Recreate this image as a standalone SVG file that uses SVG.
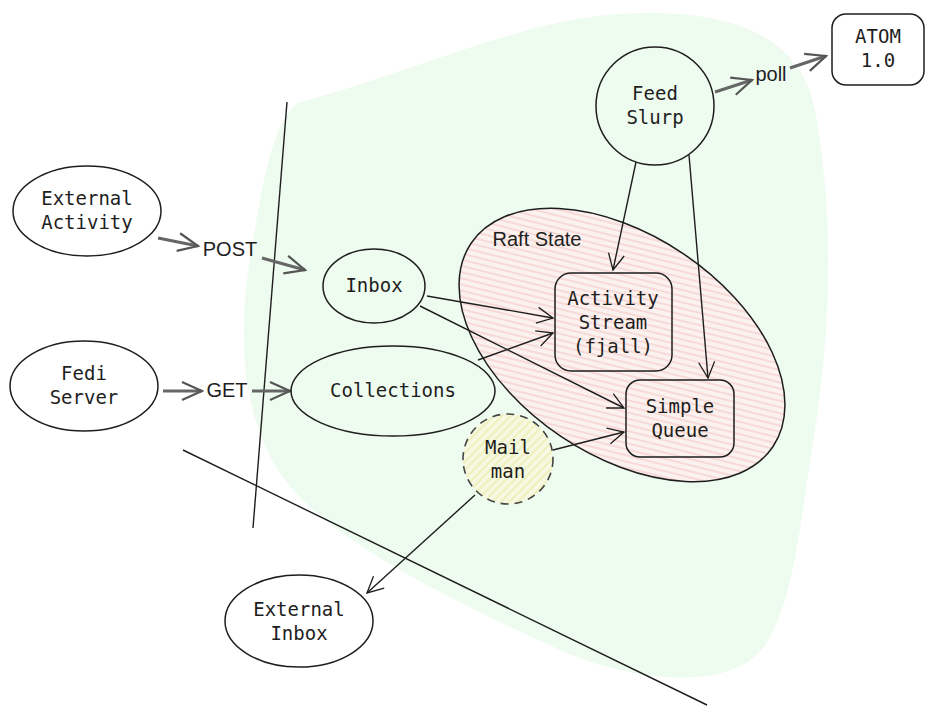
<svg xmlns="http://www.w3.org/2000/svg" width="933" height="716" viewBox="0 0 933 716">
<defs>
<pattern id="pink" width="6" height="6" patternUnits="userSpaceOnUse" patternTransform="rotate(-20)">
<rect width="6" height="6" fill="#fbf1ee"/>
<line x1="0" y1="1" x2="6" y2="1" stroke="#f3c4c0" stroke-width="1"/>
</pattern>
<pattern id="yellow" width="6" height="6" patternUnits="userSpaceOnUse" patternTransform="rotate(-45)">
<rect width="6" height="6" fill="#f6f8e2"/>
<line x1="0" y1="1" x2="6" y2="1" stroke="#ecefb0" stroke-width="1.5"/>
</pattern>
<marker id="arr" viewBox="0 0 20 20" refX="18" refY="10" markerWidth="20" markerHeight="20" markerUnits="userSpaceOnUse" orient="auto">
<path d="M2,2 L18,10 L2,18" fill="none" stroke="#1e1e1e" stroke-width="1.3"/>
</marker>
<marker id="arrg" viewBox="0 0 24 24" refX="22" refY="12" markerWidth="24" markerHeight="24" markerUnits="userSpaceOnUse" orient="auto">
<path d="M2,3 L22,12 L2,21" fill="none" stroke="#555" stroke-width="2.2"/>
</marker>
</defs>
<style>
.n{fill:none;stroke:#1e1e1e;stroke-width:1.5}
.t{font-family:"DejaVu Sans Mono","Liberation Mono",monospace;font-size:19px;fill:#1e1e1e;text-anchor:middle}
.h{font-family:"Liberation Sans",sans-serif;font-size:20px;fill:#1e1e1e;text-anchor:middle}
.c{fill:none;stroke:#1e1e1e;stroke-width:1.4;marker-end:url(#arr)}
.g{fill:none;stroke:#666;stroke-width:3;marker-end:url(#arrg)}
.l{fill:none;stroke:#1e1e1e;stroke-width:1.4}
</style>
<rect width="933" height="716" fill="#ffffff"/>
<g id="zone">
<path d="M298,103 C420,70 520,20 620,14 C720,8 800,30 815,110 C835,220 830,330 815,430 C800,520 795,600 765,645 C735,690 640,685 560,650 C450,600 330,540 285,480 C240,420 235,330 255,230 C265,170 275,120 298,103 Z" fill="#ebfaec" opacity="0.85"/>
</g>
<g id="dividers">
<line x1="287" y1="102" x2="253" y2="528" class="l"/>
<line x1="183" y1="450" x2="707" y2="705" class="l"/>
</g>
<g id="raft-state">
<ellipse cx="622" cy="345" rx="182" ry="110" transform="rotate(34 622 345)" fill="url(#pink)" stroke="#1e1e1e" stroke-width="1.5"/>
<text x="537" y="246" class="h">Raft State</text>
</g>
<g id="connectors">
<path d="M158,238 L198,246" class="g" marker-end="none"/>
<path d="M262,258 L305,270" class="g"/>
<text x="230" y="256" class="h">POST</text>
<path d="M163,391 L202,391" class="g" marker-end="none"/>
<path d="M252,391 L290,391" class="g"/>
<text x="227" y="397" class="h">GET</text>
<path d="M715,92 L752,80" class="g" marker-end="none"/>
<path d="M790,68 L826,56" class="g"/>
<text x="771" y="81" class="h">poll</text>
<path d="M636,162 L613,270" class="c"/>
<path d="M689,155 L708,378" class="c"/>
<path d="M427,296 L553,318" class="c"/>
<path d="M420,306 L624,408" class="c"/>
<path d="M478,360 L553,333" class="c"/>
<path d="M553,450 L624,432" class="c"/>
<path d="M475,495 L367,593" class="c"/>
</g>
<g id="external-activity">
<ellipse cx="87" cy="211" rx="74" ry="45" class="n"/>
<text x="87" y="205" class="t">External</text>
<text x="87" y="229" class="t">Activity</text>
</g>
<g id="fedi-server">
<ellipse cx="84" cy="386" rx="74" ry="45" class="n"/>
<text x="84" y="380" class="t">Fedi</text>
<text x="84" y="404" class="t">Server</text>
</g>
<g id="inbox">
<ellipse cx="374" cy="286" rx="51" ry="37" class="n"/>
<text x="374" y="292" class="t">Inbox</text>
</g>
<g id="collections">
<ellipse cx="393" cy="391" rx="102" ry="45" class="n"/>
<text x="393" y="397" class="t">Collections</text>
</g>
<g id="feed-slurp">
<circle cx="655" cy="106" r="59" class="n"/>
<text x="655" y="100" class="t">Feed</text>
<text x="655" y="124" class="t">Slurp</text>
</g>
<g id="atom">
<rect x="832" y="14" width="92" height="71" rx="14" class="n"/>
<text x="878" y="43" class="t">ATOM</text>
<text x="878" y="67" class="t">1.0</text>
</g>
<g id="activity-stream">
<rect x="555" y="273" width="117" height="98" rx="16" class="n"/>
<text x="613" y="305" class="t">Activity</text>
<text x="613" y="329" class="t">Stream</text>
<text x="613" y="353" class="t">(fjall)</text>
</g>
<g id="simple-queue">
<rect x="626" y="380" width="108" height="77" rx="14" class="n"/>
<text x="680" y="413" class="t">Simple</text>
<text x="680" y="437" class="t">Queue</text>
</g>
<g id="mailman">
<circle cx="508" cy="459" r="45" fill="url(#yellow)" stroke="#444" stroke-width="1.6" stroke-dasharray="8 6"/>
<text x="508" y="454" class="t">Mail</text>
<text x="508" y="478" class="t">man</text>
</g>
<g id="external-inbox">
<ellipse cx="299" cy="621" rx="74" ry="46" class="n"/>
<text x="299" y="616" class="t">External</text>
<text x="299" y="640" class="t">Inbox</text>
</g>
</svg>
